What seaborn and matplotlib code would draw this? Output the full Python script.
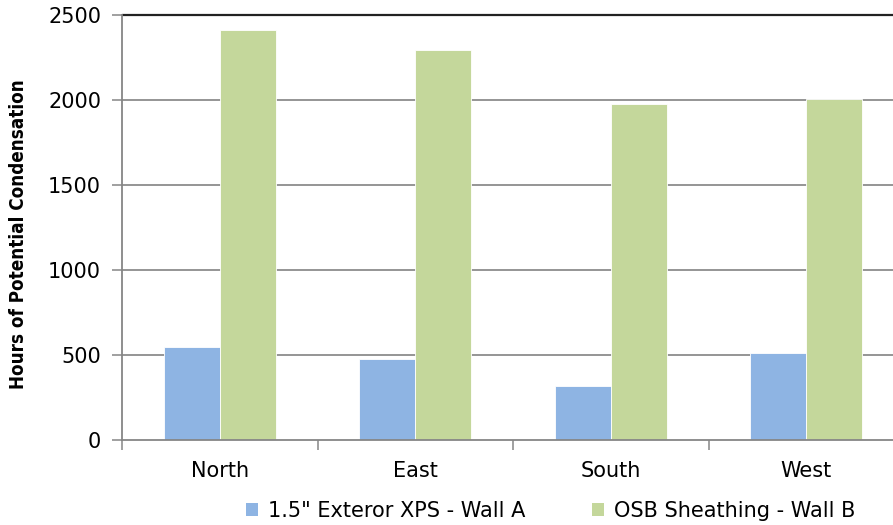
import matplotlib
matplotlib.use("Agg")
import matplotlib.pyplot as plt
import seaborn as sns
import pandas as pd
from matplotlib.patches import Patch

categories = ["North", "East", "South", "West"]
series_names = ['1.5" Exteror XPS - Wall A', "OSB Sheathing - Wall B"]
wall_a = [550, 477, 318, 513]
wall_b = [2412, 2293, 1977, 2008]
colors = ["#8EB4E3", "#C4D79B"]
yticks = [0, 500, 1000, 1500, 2000, 2500]

df = pd.DataFrame({
    "Orientation": categories * 2,
    "Series": [series_names[0]] * 4 + [series_names[1]] * 4,
    "Hours": wall_a + wall_b,
})

sns.set_style("white")
plt.rcParams["font.family"] = ["DejaVu Sans"]
plt.rcParams["text.color"] = "black"
plt.rcParams["xtick.color"] = "#868686"
plt.rcParams["ytick.color"] = "#868686"
plt.rcParams["xtick.labelcolor"] = "black"
plt.rcParams["ytick.labelcolor"] = "black"

fig = plt.figure(figsize=(8.93, 5.25), dpi=100)
ax = fig.add_axes([122/893, 1-440/525, (904-122)/893, (440-15)/525])

sns.barplot(data=df, x="Orientation", y="Hours", hue="Series", order=categories,
            hue_order=series_names, palette=colors, width=0.573, ax=ax,
            edgecolor="white", linewidth=0.6, legend=False, saturation=1)

ax.set_ylim(0, 2500)
ax.set_xlim(-0.5, 3.5)
ax.set_yticks(yticks)
ax.set_yticklabels([str(v) for v in yticks], fontsize=15)
ax.set_xlabel("")
ax.set_ylabel("Hours of Potential Condensation", fontsize=13.5, fontweight="bold",
              fontstretch="condensed", color="black")
ax.yaxis.set_label_coords(-0.12, 0.485)
for y in yticks[1:-1]:
    ax.axhline(y, color="#8C8C8C", lw=1.3, zorder=0)
ax.axhline(2500, color="#222222", lw=1.6, zorder=0, clip_on=False)

for s in ["top", "right"]:
    ax.spines[s].set_visible(False)
for s in ["left", "bottom"]:
    ax.spines[s].set_color("#868686")
    ax.spines[s].set_linewidth(1.3)

ax.tick_params(axis="y", left=True, direction="out", length=7, width=1.1, color="#868686", pad=8)
ax.set_xticks(range(4))
ax.set_xticklabels(categories, fontsize=15)
ax.tick_params(axis="x", which="major", bottom=True, length=0, pad=15)
ax.set_xticks([-0.5, 0.5, 1.5, 2.5, 3.5], minor=True)
ax.tick_params(axis="x", which="minor", bottom=True, direction="out", length=7, width=1.1, color="#868686")

handles = [Patch(facecolor=c, edgecolor="none") for c in colors]
fig.legend(handles, series_names, loc="center", bbox_to_anchor=(551/893, 1-511/525),
           ncol=2, frameon=False, fontsize=15, handlelength=0.55, handleheight=0.55,
           columnspacing=3.2, handletextpad=0.5)

fig.savefig("out.png", dpi=100)
